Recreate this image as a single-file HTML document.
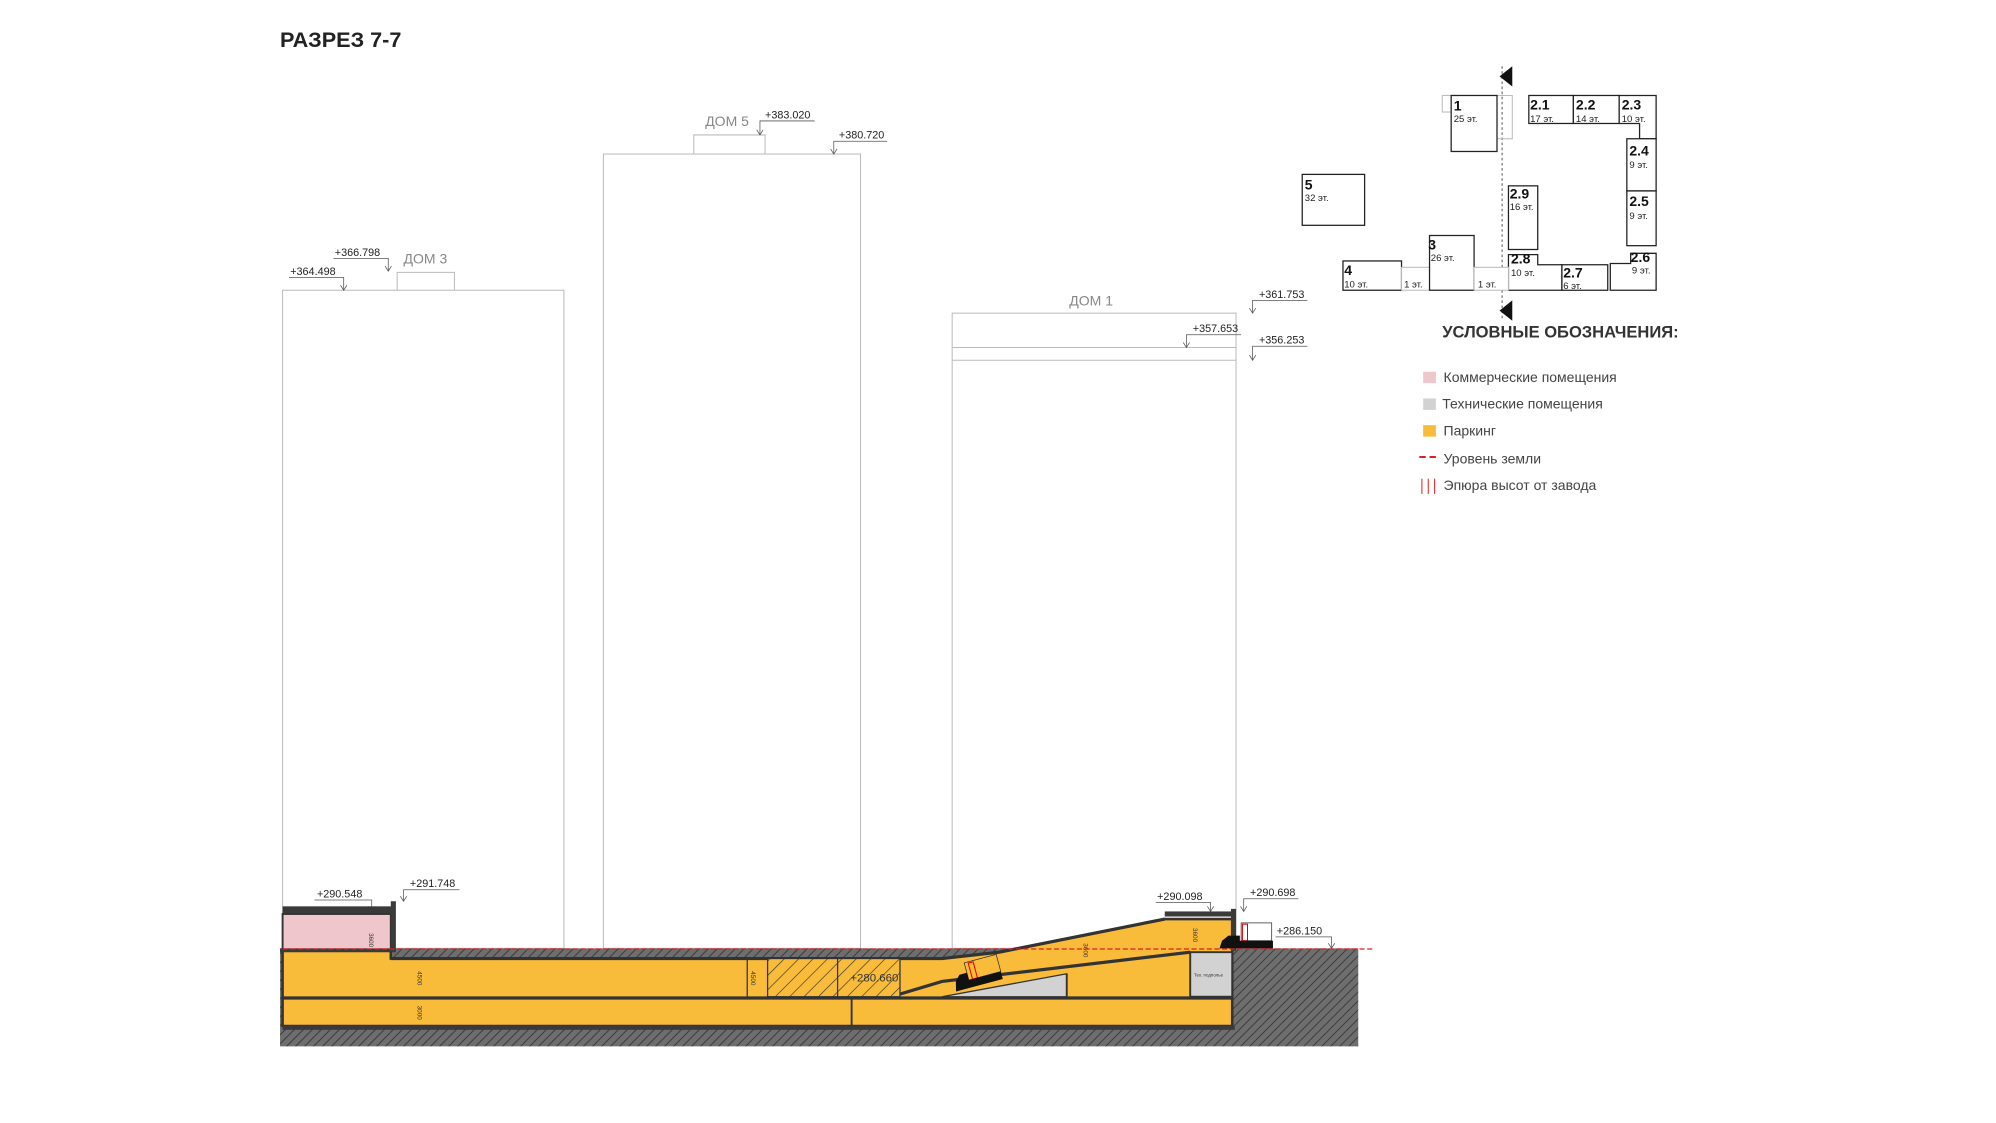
<!DOCTYPE html>
<html><head><meta charset="utf-8"><style>
html,body{margin:0;padding:0;background:#fff;}
svg{display:block;font-family:"Liberation Sans","DejaVu Sans",sans-serif;}
.el{font-size:8.5px;fill:#222;}
.ld{stroke:#555;stroke-width:0.6;fill:none;}
.b{fill:none;stroke:#bbb;stroke-width:0.8;}
.pl{fill:#fff;stroke:#222;stroke-width:1;}
.pn{font-size:11px;font-weight:bold;fill:#111;}
.ps{font-size:7.5px;fill:#222;}
.lg{font-size:11px;fill:#444;}
</style></head><body>
<svg width="1996" height="1123" viewBox="0 0 1568 882.2" preserveAspectRatio="none">
<defs>
<pattern id="h" patternUnits="userSpaceOnUse" width="5" height="5" patternTransform="rotate(45)">
<rect width="5" height="5" fill="#6e6e6e"/><line x1="0" y1="0" x2="0" y2="5" stroke="#3c3c3c" stroke-width="1.6"/></pattern>
<pattern id="h2" patternUnits="userSpaceOnUse" width="8" height="8" patternTransform="rotate(45)">
<rect width="8" height="8" fill="#f9bb3a"/><line x1="0" y1="0" x2="0" y2="8" stroke="#333" stroke-width="1"/></pattern>
</defs>
<text x="220" y="37" font-size="17" font-weight="bold" fill="#222">РАЗРЕЗ 7-7</text>

<rect class="b" x="222" y="228" width="221" height="517"/>
<polyline class="b" points="312,228 312,214 357,214 357,228"/>
<text x="317" y="207" font-size="11" fill="#888">ДОМ 3</text>
<rect class="b" x="474" y="121" width="202" height="624"/>
<polyline class="b" points="545,121 545,106 601,106 601,121"/>
<text x="554" y="99" font-size="11" fill="#888">ДОМ 5</text>
<rect class="b" x="748" y="246" width="223" height="499"/>
<line class="b" x1="748" y1="273" x2="971" y2="273"/>
<line class="b" x1="748" y1="283" x2="971" y2="283"/>
<text x="840" y="240" font-size="11" fill="#888">ДОМ 1</text>

<g class="el">
<text x="263" y="201">+366.798</text><text x="228" y="216">+364.498</text>
<text x="601" y="93">+383.020</text><text x="659" y="109">+380.720</text>
<text x="989" y="234">+361.753</text><text x="937" y="261">+357.653</text><text x="989" y="270">+356.253</text>
<text x="249" y="705">+290.548</text><text x="322" y="697">+291.748</text>
<text x="909" y="707">+290.098</text><text x="982" y="704">+290.698</text><text x="1003" y="734">+286.150</text>
</g>
<g class="ld">
<polyline points="262,203 305,203 305,213"/><path d="M302.5,209 L305,213 L307.5,209"/>
<polyline points="227,218 270,218 270,228"/><path d="M267.5,224 L270,228 L272.5,224"/>
<polyline points="640,95 597,95 597,106"/><path d="M594.5,102 L597,106 L599.5,102"/>
<polyline points="697,111 655,111 655,121"/><path d="M652.5,117 L655,121 L657.5,117"/>
<polyline points="1027,236 984,236 984,246"/><path d="M981.5,242 L984,246 L986.5,242"/>
<polyline points="975,263 932,263 932,273"/><path d="M929.5,269 L932,273 L934.5,269"/>
<polyline points="1027,272 984,272 984,283"/><path d="M981.5,279 L984,283 L986.5,279"/>
<polyline points="247,707 292,707 292,716"/><path d="M289.5,712 L292,716 L294.5,712"/>
<polyline points="361,699 317,699 317,708"/><path d="M314.5,704 L317,708 L319.5,704"/>
<polyline points="908,709 951,709 951,716"/><path d="M948.5,712 L951,716 L953.5,712"/>
<polyline points="1020,706 977,706 977,716"/><path d="M974.5,712 L977,716 L979.5,712"/>
<polyline points="1002,736 1046,736 1046,745"/><path d="M1043.5,741 L1046,745 L1048.5,741"/>
</g>

<rect x="220" y="745" width="847" height="77" fill="url(#h)"/>
<rect x="222" y="712" width="88" height="6" fill="#3a3a3a"/>
<rect x="222" y="718" width="85" height="28" fill="#efc6cc" stroke="#333" stroke-width="1.5"/>
<rect x="307" y="708" width="4" height="40" fill="#3a3a3a"/>
<path d="M222,747 L307,747 L307,753 L740,753 L785,748 L915,722 L968,722 L968,806 L222,806 Z" fill="#f9bb3a" stroke="#333" stroke-width="2"/>
<path d="M307,753 L740,753 L785,748 L915,722" fill="none" stroke="#333" stroke-width="2.5"/>
<rect x="220" y="745" width="90" height="3" fill="#3a3a3a"/>
<path d="M700,783 L740,771 L935,748" fill="none" stroke="#333" stroke-width="2.5"/>
<line x1="222" y1="784" x2="968" y2="784" stroke="#333" stroke-width="2.5"/>
<path d="M740,783 L838,765 L838,783 Z" fill="#d2d2d2" stroke="#333" stroke-width="1"/>
<line x1="838" y1="765" x2="838" y2="783" stroke="#333" stroke-width="1.5"/>
<rect x="935" y="748" width="33" height="35" fill="#d2d2d2" stroke="#333" stroke-width="1.5"/>
<text x="938" y="767" font-size="3.5" fill="#333">Тех. подполье</text>
<rect x="603" y="753" width="104" height="30" fill="url(#h2)" stroke="#333" stroke-width="1"/>
<line x1="658" y1="753" x2="658" y2="783" stroke="#333" stroke-width="1"/>
<line x1="587" y1="753" x2="587" y2="783" stroke="#333" stroke-width="1"/>
<line x1="669" y1="784" x2="669" y2="806" stroke="#333" stroke-width="1.5"/>
<text x="668" y="771" font-size="9" fill="#333">+280.660</text>
<rect x="222" y="806" width="748" height="3" fill="#3a3a3a"/>
<rect x="915" y="716" width="55" height="4" fill="#3a3a3a"/>
<rect x="967" y="714" width="4" height="33" fill="#3a3a3a"/>
<g font-size="5" fill="#333">
<text transform="translate(290,733) rotate(90)">3600</text>
<text transform="translate(328,763) rotate(90)">4500</text>
<text transform="translate(328,790) rotate(90)">3000</text>
<text transform="translate(590,763) rotate(90)">4500</text>
<text transform="translate(851,741) rotate(90)">3600</text>
<text transform="translate(937,729) rotate(90)">3600</text>
</g>
<g transform="translate(750,775) rotate(-15)"><rect x="12" y="-16" width="26" height="14" fill="#f9bb3a" stroke="#333" stroke-width="0.6"/><rect x="15" y="-15" width="4" height="13" fill="none" stroke="#d00" stroke-width="0.8"/><path d="M0,4 L2,-4 L6,-8 L12,-8 L12,-2 L38,-2 L38,4 Z" fill="#111"/></g>
<g transform="translate(960,745)"><rect x="15" y="-20" width="24" height="14" fill="#fff" stroke="#333" stroke-width="0.6"/><rect x="16" y="-19" width="4" height="13" fill="none" stroke="#d00" stroke-width="0.8"/><path d="M-2,0 L0,-6 L5,-10 L14,-10 L14,-6 L40,-6 L40,0 Z" fill="#111"/></g>
<line x1="222" y1="745.5" x2="1080" y2="745.5" stroke="#e02020" stroke-width="1" stroke-dasharray="4,2"/>

<line x1="1180" y1="52" x2="1180" y2="252" stroke="#444" stroke-width="0.7" stroke-dasharray="2,2"/>
<path d="M1178,60 L1188,52 L1188,68 Z" fill="#111"/><path d="M1178,244 L1188,236 L1188,252 Z" fill="#111"/>
<rect x="1133" y="75" width="7" height="13" fill="none" stroke="#bbb" stroke-width="0.8"/>
<rect x="1176" y="75" width="12" height="34" fill="none" stroke="#bbb" stroke-width="0.8"/>
<rect class="pl" x="1140" y="75" width="36" height="44"/>
<rect class="pl" x="1201" y="75" width="35" height="22"/><rect class="pl" x="1236" y="75" width="36" height="22"/>
<path class="pl" d="M1272,75 H1301 V109 H1288 V97 H1272 Z"/>
<rect class="pl" x="1278" y="109" width="23" height="41"/><rect class="pl" x="1278" y="150" width="23" height="43"/>
<rect class="pl" x="1185" y="146" width="23" height="50"/>
<path class="pl" d="M1185,200 H1208 V208 H1227 V228 H1185 Z"/>
<path class="pl" d="M1227,208 H1263 V228 H1227 Z"/>
<path class="pl" d="M1265,207 H1281 V199 H1301 V228 H1265 Z"/>
<rect class="pl" x="1023" y="137" width="49" height="40"/>
<rect class="pl" x="1055" y="205" width="46" height="23"/>
<rect x="1101" y="210" width="22" height="18" fill="#fff" stroke="#bbb" stroke-width="0.8"/>
<rect class="pl" x="1123" y="185" width="35" height="43"/>
<rect x="1158" y="210" width="27" height="18" fill="#fff" stroke="#bbb" stroke-width="0.8"/>
<g class="pn">
<text x="1142" y="87">1</text><text x="1202" y="86">2.1</text><text x="1238" y="86">2.2</text><text x="1274" y="86">2.3</text>
<text x="1280" y="122">2.4</text><text x="1280" y="162">2.5</text><text x="1281" y="206">2.6</text><text x="1228" y="218">2.7</text>
<text x="1187" y="207">2.8</text><text x="1186" y="156">2.9</text><text x="1025" y="149">5</text><text x="1056" y="216">4</text><text x="1122" y="196">3</text>
</g>
<g class="ps">
<text x="1142" y="96">25 эт.</text><text x="1202" y="96">17 эт.</text><text x="1238" y="96">14 эт.</text><text x="1274" y="96">10 эт.</text>
<text x="1280" y="132">9 эт.</text><text x="1280" y="172">9 эт.</text><text x="1282" y="215">9 эт.</text><text x="1228" y="227">6 эт.</text>
<text x="1187" y="217">10 эт.</text><text x="1186" y="165">16 эт.</text><text x="1025" y="158">32 эт.</text><text x="1056" y="226">10 эт.</text>
<text x="1124" y="205">26 эт.</text><text x="1103" y="226">1 эт.</text><text x="1161" y="226">1 эт.</text>
</g>
<text x="1133" y="265" font-size="13" font-weight="bold" fill="#333">УСЛОВНЫЕ ОБОЗНАЧЕНИЯ:</text>
<rect x="1118" y="292" width="10" height="9" fill="#efc6cc"/><text class="lg" x="1134" y="300">Коммерческие помещения</text>
<rect x="1118" y="313" width="10" height="9" fill="#d2d2d2"/><text class="lg" x="1133" y="321">Технические помещения</text>
<rect x="1118" y="334" width="10" height="9" fill="#f9bb3a"/><text class="lg" x="1134" y="342">Паркинг</text>
<line x1="1115" y1="359" x2="1130" y2="359" stroke="#e02020" stroke-width="1.6" stroke-dasharray="5,3"/><text class="lg" x="1134" y="364">Уровень земли</text>
<g stroke="#e02020" stroke-width="0.8"><line x1="1117" y1="376" x2="1117" y2="388"/><line x1="1122" y1="376" x2="1122" y2="388"/><line x1="1127" y1="376" x2="1127" y2="388"/></g>
<text class="lg" x="1134" y="385">Эпюра высот от завода</text>
</svg>
</body></html>
